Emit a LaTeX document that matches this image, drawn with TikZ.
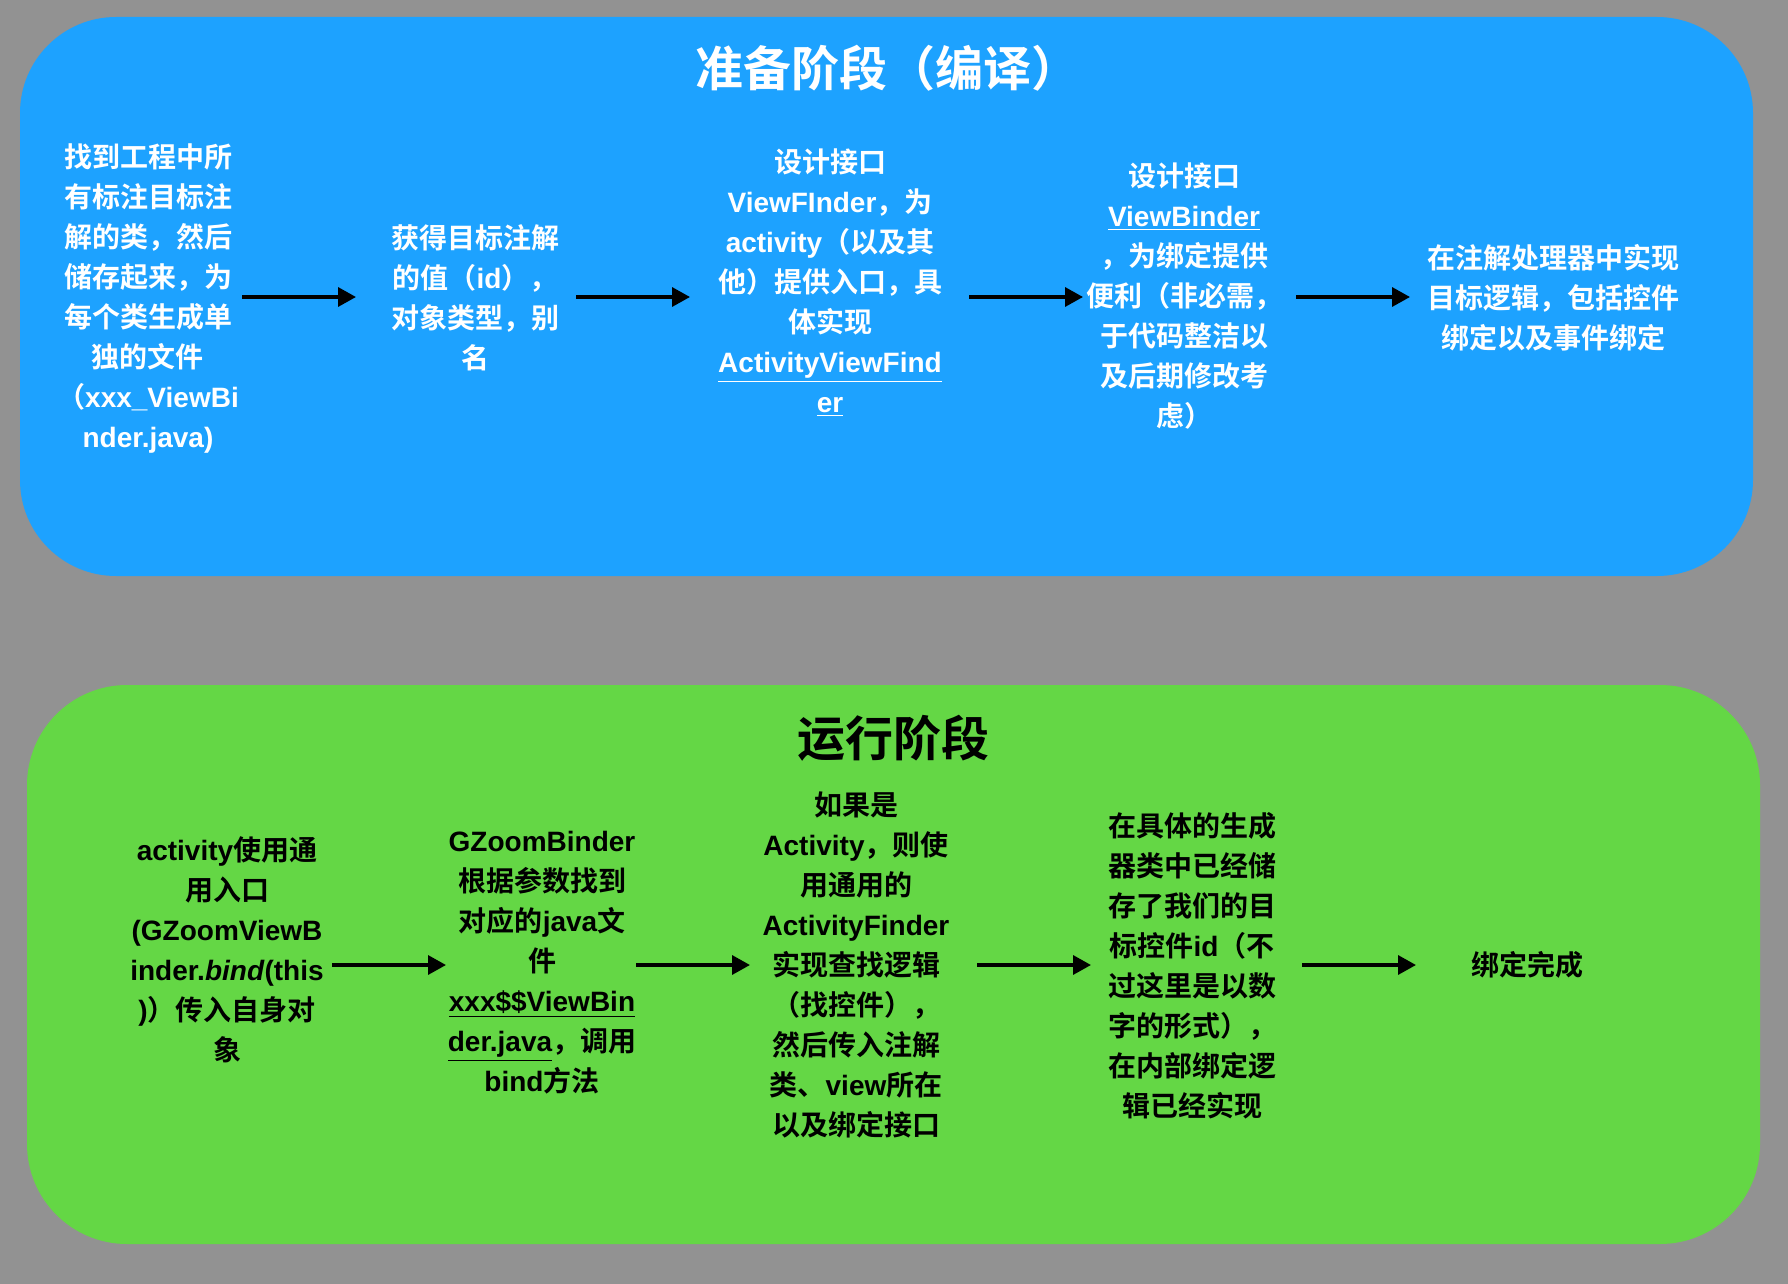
\documentclass[tikz,border=0pt]{standalone}
\usepackage{fontspec}
\setmainfont{Noto Sans CJK SC}[BoldFont={Noto Sans CJK SC Bold}]
\newfontfamily\latfont{Liberation Sans}
\newcommand{\lat}[1]{{\latfont #1}}
\usetikzlibrary{arrows.meta}
\definecolor{bggray}{RGB}{146,146,146}
\definecolor{panelblue}{RGB}{29,162,255}
\definecolor{panelgreen}{RGB}{100,215,69}
\begin{document}
\begin{tikzpicture}[x=0.5pt,y=-0.5pt,
  txt/.style={align=center, font=\bfseries\fontsize{14}{20}\selectfont, inner sep=0pt},
  wtxt/.style={txt, text=white},
  btxt/.style={txt, text=black},
  arr/.style={-{Triangle[length=9pt,width=9.5pt]}, line width=1.7pt, black},
  ttl/.style={font=\bfseries\fontsize{24}{28}\selectfont, inner sep=0pt}]
% background
\fill[bggray] (0,0) rectangle (1788,1284);
\useasboundingbox (0,0) rectangle (1788,1284);
% panels
\fill[panelblue, rounded corners=48pt] (20,17) rectangle (1753,576);
\fill[panelgreen, rounded corners=50pt] (27,685) rectangle (1760,1244);
% titles
\node[ttl, text=white] (t1) at (887,68) {准备阶段（编译）};
\node[ttl, text=black] (t2) at (893,738) {运行阶段};
% top row
\node[wtxt] (a1) at (148,299) {找到工程中所\\有标注目标注\\解的类，然后\\储存起来，为\\每个类生成单\\独的文件\\（\lat{xxx\_ViewBi}\\\lat{nder.java)}};
\node[wtxt] (a2) at (475,298) {获得目标注解\\的值（\lat{id}），\\对象类型，别\\名};
\node[wtxt] (a3) at (830,283) {设计接口\\\lat{ViewFInder}，为\\\lat{activity}（以及其\\他）提供入口，具\\体实现\\\underline{\lat{ActivityViewFind}}\\\underline{\lat{er}}};
\node[wtxt] (a4) at (1184,296) {设计接口\\\underline{\lat{ViewBinder}}\\，为绑定提供\\便利（非必需，\\于代码整洁以\\及后期修改考\\虑）};
\node[wtxt] (a5) at (1553,298) {在注解处理器中实现\\目标逻辑，包括控件\\绑定以及事件绑定};
\coordinate (a1o) at (242,297);
\coordinate (a2i) at (356,297);
\coordinate (a2o) at (576,297);
\coordinate (a3i) at (690,297);
\coordinate (a3o) at (969,297);
\coordinate (a4i) at (1083,297);
\coordinate (a4o) at (1296,297);
\coordinate (a5i) at (1410,297);
\draw[arr] (a1o) -- (a2i);
\draw[arr] (a2o) -- (a3i);
\draw[arr] (a3o) -- (a4i);
\draw[arr] (a4o) -- (a5i);
% bottom row
\node[btxt] (b1) at (227,950) {\lat{activity}使用通\\用入口\\\lat{(GZoomViewB}\\\lat{inder.\textit{bind}(this}\\\lat{)}）传入自身对\\象};
\node[btxt] (b2) at (542,963) {\lat{GZoomBinder}\\根据参数找到\\对应的\lat{java}文\\件\\\underline{\lat{xxx\$\$ViewBin}}\\\underline{\lat{der.java}}，调用\\\lat{bind}方法};
\node[btxt] (b3) at (856,965) {如果是\\\lat{Activity}，则使\\用通用的\\\lat{ActivityFinder}\\实现查找逻辑\\（找控件），\\然后传入注解\\类、\lat{view}所在\\以及绑定接口};
\node[btxt] (b4) at (1192,966) {在具体的生成\\器类中已经储\\存了我们的目\\标控件\lat{id}（不\\过这里是以数\\字的形式），\\在内部绑定逻\\辑已经实现};
\node[btxt] (b5) at (1527,965) {绑定完成};
\coordinate (b1o) at (332,965);
\coordinate (b2i) at (446,965);
\coordinate (b2o) at (636,965);
\coordinate (b3i) at (750,965);
\coordinate (b3o) at (977,965);
\coordinate (b4i) at (1091,965);
\coordinate (b4o) at (1302,965);
\coordinate (b5i) at (1416,965);
\draw[arr] (b1o) -- (b2i);
\draw[arr] (b2o) -- (b3i);
\draw[arr] (b3o) -- (b4i);
\draw[arr] (b4o) -- (b5i);
\end{tikzpicture}
\end{document}
